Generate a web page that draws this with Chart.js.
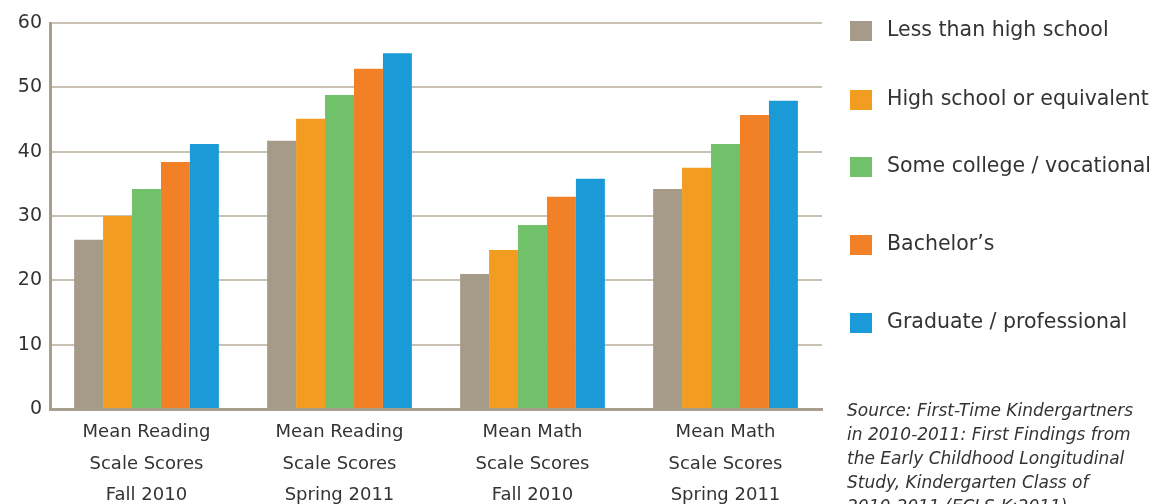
<!DOCTYPE html>
<html>
<head>
<meta charset="utf-8">
<script src="https://cdn.jsdelivr.net/npm/chart.js@4/dist/chart.umd.min.js"></script>
<style>
  html, body { margin: 0; padding: 0; background: #fff; }
  #wrap { width: 1172px; height: 504px; position: relative; }
</style>
</head>
<body>
<div id="wrap"><canvas id="eclsChart" width="1172" height="504"></canvas></div>
<script>
  "use strict";

  // categories (multi-line x labels)
  const categories = [
    ["Mean Reading", "Scale Scores", "Fall 2010"],
    ["Mean Reading", "Scale Scores", "Spring 2011"],
    ["Mean Math", "Scale Scores", "Fall 2010"],
    ["Mean Math", "Scale Scores", "Spring 2011"],
  ];

  // series
  const lessThanHighSchool = [26.3, 41.7, 21.0, 34.2];
  const highSchool = [30.0, 45.1, 24.7, 37.5];
  const someCollege = [34.2, 48.8, 28.6, 41.2];
  const bachelors = [38.4, 52.9, 33.0, 45.7];
  const graduate = [41.2, 55.3, 35.8, 47.9];

  const seriesNames = [
    "Less than high school",
    "High school or equivalent",
    "Some college / vocational",
    "Bachelor\u2019s",
    "Graduate / professional",
  ];
  const seriesColors = ["#a69a88", "#f29c22", "#70c169", "#f28026", "#1a9ad7"];

  const yTicks = [0, 10, 20, 30, 40, 50, 60];

  const sourceLines = [
    "Source: First-Time Kindergartners",
    "in 2010-2011: First Findings from",
    "the Early Childhood Longitudinal",
    "Study, Kindergarten Class of",
    "2010-2011 (ECLS-K:2011)",
  ];

  const FONT = "'DejaVu Sans', sans-serif";
  const TEXT = "#333333";

  /**
   * Legend + source note drawn on the right side
   */
  const sideNotes = {
    id: "sideNotes",
    afterDraw(chart) {
      const ctx = chart.ctx;
      const rows = [31, 100, 167, 245, 323];
      ctx.save();
      chart.data.datasets.forEach((ds, i) => {
        ctx.fillStyle = ds.backgroundColor;
        ctx.fillRect(850, rows[i] - 10, 22, 20);
        ctx.fillStyle = TEXT;
        ctx.font = "20.5px " + FONT;
        ctx.textBaseline = "middle";
        ctx.textAlign = "left";
        ctx.fillText(ds.label, 887, rows[i]);
      });
      ctx.font = "italic 17px " + FONT;
      ctx.fillStyle = TEXT;
      sourceLines.forEach((line, i) => {
        ctx.fillText(line, 847, 412 + i * 24);
      });
      ctx.restore();
    },
  };

  const datasets = [lessThanHighSchool, highSchool, someCollege, bachelors, graduate].map(
    (values, i) => ({
      label: seriesNames[i],
      data: values,
      backgroundColor: seriesColors[i],
      borderWidth: 0,
      barPercentage: 1,
      categoryPercentage: 0.75,
    })
  );

  new Chart(document.getElementById("eclsChart"), {
    type: "bar",
    data: { labels: categories, datasets: datasets },
    plugins: [sideNotes],
    options: {
      responsive: false,
      animation: false,
      layout: { padding: { top: 23, right: 350, left: 0, bottom: 0 } },
      plugins: {
        legend: { display: false },
        tooltip: { enabled: false },
      },
      scales: {
        x: {
          grid: { display: false },
          border: { color: "#a89e8e", width: 3 },
          ticks: {
            color: TEXT,
            font: { family: FONT, size: 18, lineHeight: 1.75 },
            padding: 0,
            maxRotation: 0,
            autoSkip: false,
          },
          afterFit(scale) {
            scale.height = 95;
          },
        },
        y: {
          min: 0,
          max: 60,
          afterBuildTicks(scale) {
            scale.ticks = yTicks.map((v) => ({ value: v }));
          },
          grid: {
            color: "#c9c1b4",
            lineWidth: 2,
            drawTicks: false,
          },
          border: { color: "#a89e8e", width: 3 },
          ticks: {
            color: TEXT,
            font: { family: FONT, size: 19 },
            padding: 8,
          },
          afterFit(scale) {
            scale.width = 50;
          },
        },
      },
    },
  });
</script>
</body>
</html>
